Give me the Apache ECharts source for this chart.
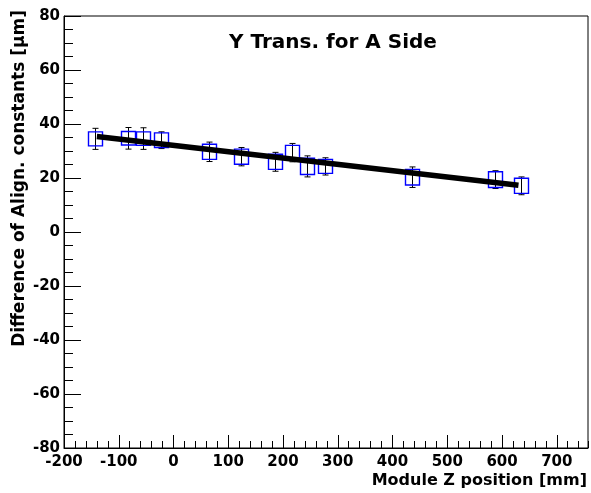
<!DOCTYPE html>
<html>
<head>
<meta charset="utf-8">
<script src="https://cdn.jsdelivr.net/npm/echarts@6/dist/echarts.min.js"></script>
<style>
  html, body { margin: 0; padding: 0; background: #fff; }
  #chart { width: 591px; height: 493px; }
</style>
</head>
<body>
<div id="chart"></div>
<script>
// Module positions along Z [mm]
var moduleZ = [-144, -84, -56, -22, 64, 124, 186, 217, 244, 276, 435, 587, 635];
// Difference of alignment constants [um]
var alignDiff = [34.5, 34.7, 34.6, 34.0, 29.7, 27.9, 26.0, 29.4, 24.3, 24.3, 20.3, 19.4, 17.1];
// Systematic uncertainty (half height of the boxes)
var systErr = [2.6, 2.5, 2.5, 2.7, 2.8, 2.8, 2.8, 2.7, 3.0, 2.6, 2.9, 2.9, 2.8];
// Statistical uncertainty (half length of the error bars)
var statErr = [3.9, 4.0, 4.0, 3.1, 3.6, 3.4, 3.5, 3.4, 3.9, 3.2, 3.8, 3.3, 3.3];
// Straight-line fit, evaluated at its end points
var fitZ = [-140, 630];
var fitDiff = [35.4, 17.3];

var xTickLabels = [-200, -100, 0, 100, 200, 300, 400, 500, 600, 700];
var yTickLabels = [-80, -60, -40, -20, 0, 20, 40, 60, 80];

var FONT = 'DejaVu Sans';
var BOX_HALF_W = 7;   // px
var CAP_HALF_W = 3;   // px

var points = moduleZ.map(function (z, i) {
  return [z, alignDiff[i], systErr[i], statErr[i]];
});

var chart = echarts.init(document.getElementById('chart'), null, { renderer: 'canvas' });

var labelStyle = { color: '#000', fontFamily: FONT, fontWeight: 'bold', fontSize: 15 };

chart.setOption({
  animation: false,
  backgroundColor: '#fff',
  grid: {
    left: 64, right: 3, top: 16, bottom: 45,
    show: true, borderColor: '#000', borderWidth: 1, backgroundColor: 'transparent'
  },
  xAxis: [
    {
      type: 'value', min: -200, max: 757, interval: 100, position: 'bottom',
      axisLine: { show: true, onZero: false, lineStyle: { color: '#000', width: 1 } },
      axisTick: { show: true, inside: true, length: 13, lineStyle: { color: '#000' } },
      axisLabel: Object.assign({
        margin: 7,
        showMaxLabel: false,
        formatter: function (v) { return xTickLabels.indexOf(v) >= 0 ? String(v) : ''; }
      }, labelStyle),
      splitLine: { show: false }
    },
    {
      type: 'value', min: -200, max: 757, interval: 20, position: 'bottom',
      axisLine: { show: false, onZero: false },
      axisTick: { show: true, inside: true, length: 7, lineStyle: { color: '#000' } },
      axisLabel: { show: false },
      splitLine: { show: false }
    }
  ],
  yAxis: [
    {
      type: 'value', min: -80, max: 80, interval: 20, position: 'left',
      axisLine: { show: true, onZero: false, lineStyle: { color: '#000', width: 1 } },
      axisTick: { show: true, inside: true, length: 17, lineStyle: { color: '#000' } },
      minorTick: { show: true, splitNumber: 4, length: 9, lineStyle: { color: '#000' } },
      axisLabel: Object.assign({
        margin: 4,
        formatter: function (v) { return yTickLabels.indexOf(v) >= 0 ? String(v) : ''; }
      }, labelStyle),
      splitLine: { show: false },
      minorSplitLine: { show: false }
    }
  ],
  graphic: [
    {
      type: 'text', x: 333, y: 43,
      style: {
        text: 'Y Trans. for A Side', fill: '#000',
        font: 'bold 20px "' + FONT + '"', textAlign: 'center', textVerticalAlign: 'middle'
      }
    },
    {
      type: 'text', x: 587, y: 481,
      style: {
        text: 'Module Z position [mm]', fill: '#000',
        font: 'bold 16px "' + FONT + '"', textAlign: 'right', textVerticalAlign: 'middle'
      }
    },
    {
      type: 'text', x: 20, y: 10, rotation: Math.PI / 2,
      style: {
        text: 'Difference of Align. constants [\u03bcm]', fill: '#000',
        font: 'bold 17px "' + FONT + '"', textAlign: 'right', textVerticalAlign: 'middle'
      }
    }
  ],
  series: [
    {
      type: 'custom',
      xAxisIndex: 0, yAxisIndex: 0,
      data: points,
      z: 2,
      renderItem: function (params, api) {
        var z = api.value(0), v = api.value(1), sy = api.value(2), st = api.value(3);
        var c = api.coord([z, v]);
        var bTop = api.coord([z, v + sy])[1];
        var bBot = api.coord([z, v - sy])[1];
        var eTop = api.coord([z, v + st])[1];
        var eBot = api.coord([z, v - st])[1];
        var x = Math.round(c[0]) + 0.5;
        var blk = { stroke: '#000', lineWidth: 1 };
        return {
          type: 'group',
          children: [
            { type: 'line', shape: { x1: x, y1: eTop, x2: x, y2: eBot }, style: blk },
            { type: 'line', shape: { x1: x - CAP_HALF_W, y1: eTop, x2: x + CAP_HALF_W, y2: eTop }, style: blk },
            { type: 'line', shape: { x1: x - CAP_HALF_W, y1: eBot, x2: x + CAP_HALF_W, y2: eBot }, style: blk },
            {
              type: 'rect',
              shape: { x: x - BOX_HALF_W, y: bTop, width: 2 * BOX_HALF_W, height: bBot - bTop },
              style: { fill: 'none', stroke: '#0000ff', lineWidth: 1.4 }
            }
          ]
        };
      }
    },
    {
      type: 'line',
      xAxisIndex: 0, yAxisIndex: 0,
      data: fitZ.map(function (z, i) { return [z, fitDiff[i]]; }),
      showSymbol: false, symbol: 'none',
      lineStyle: { color: '#000', width: 5.5 },
      z: 3
    }
  ]
});
</script>
</body>
</html>
